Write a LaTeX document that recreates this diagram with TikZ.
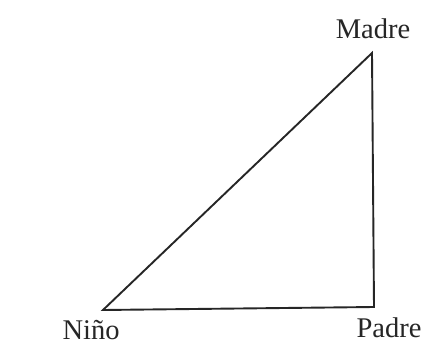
\documentclass[tikz,border=0pt]{standalone}
\usepackage{fontspec}
\setmainfont{Liberation Serif}
\begin{document}
\begin{tikzpicture}[x=1pt,y=-1pt,
  lbl/.style={font=\fontsize{28.5}{30}\selectfont, text=black!85, inner sep=0pt},
  edge/.style={draw=black!85, line width=1.9pt, line join=miter}]
\useasboundingbox[fill=white] (0,0) rectangle (431,345);
\coordinate (m) at (372,53);
\coordinate (n) at (103,310);
\coordinate (p) at (374,307);
\node[lbl] (madre) at (373,29) {Madre};
\node[lbl] (nino) at (91,330) {Niño};
\node[lbl] (padre) at (389,328) {Padre};
\draw[edge] (m) -- (p) -- (n) -- cycle;
\end{tikzpicture}
\end{document}
